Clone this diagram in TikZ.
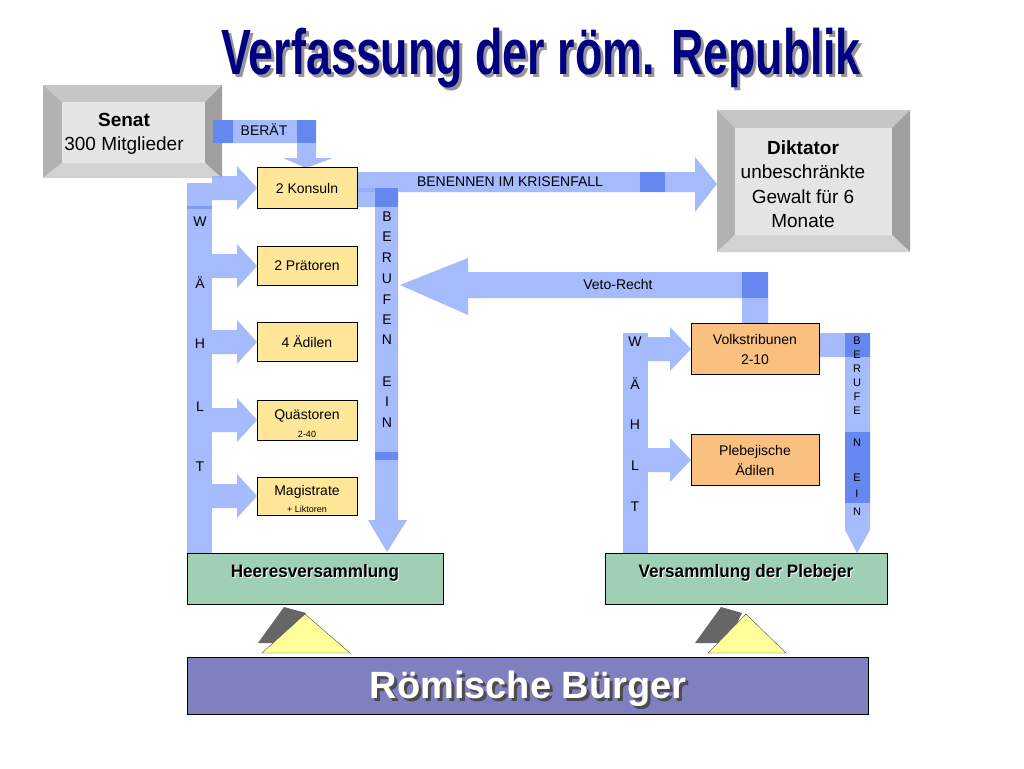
\documentclass[tikz,border=0pt]{standalone}
\usepackage{fontspec}
\setmainfont{Liberation Sans}
\begin{document}
\begin{tikzpicture}[x=1pt,y=-1pt,
  arrc/.style={fill={rgb,255:red,143;green,170;blue,250}},
  dk/.style={fill={rgb,255:red,100;green,135;blue,240}},
  ybox/.style={draw,fill={rgb,255:red,255;green,230;blue,153}},
  obox/.style={draw,fill={rgb,255:red,250;green,192;blue,128}},
  gbox/.style={draw,fill={rgb,255:red,159;green,207;blue,181}},
  lbl/.style={font=\fontsize{14}{16}\selectfont,align=center},
  alb/.style={font=\fontsize{13}{13}\selectfont,inner sep=0pt},
  sm/.style={font=\fontsize{9}{9}\selectfont,inner sep=0pt}]
\useasboundingbox (0,0) rectangle (1024,768);
\fill[white] (0,0) rectangle (1024,768);
% title
\node[text={rgb,255:red,150;green,150;blue,150},font=\bfseries\fontsize{64}{64}\selectfont,inner sep=0pt] at (544,61) {\scalebox{0.7}[1]{Verfassung der röm. Republik}};
\node (title) [text={rgb,255:red,0;green,0;blue,128},font=\bfseries\fontsize{64}{64}\selectfont,inner sep=0pt] at (541,58) {\scalebox{0.7}[1]{Verfassung der röm. Republik}};
% Senat box
\fill[gray!45] (43,85) -- (222,85) -- (205,102) -- (62,102) -- cycle;
\fill[gray!60] (43,85) -- (62,102) -- (62,163) -- (43,178) -- cycle;
\fill[gray!75] (222,85) -- (205,102) -- (205,163) -- (222,178) -- cycle;
\fill[gray!35] (43,178) -- (62,163) -- (205,163) -- (222,178) -- cycle;
\fill[gray!20] (62,102) rectangle (205,163);
\node (senat) [lbl,font=\fontsize{19}{24}\selectfont] at (124,134) {\textbf{Senat}\\300 Mitglieder};
% Diktator box
\fill[gray!45] (717,110) -- (910,110) -- (892,128) -- (735,128) -- cycle;
\fill[gray!60] (717,110) -- (735,128) -- (735,235) -- (717,252) -- cycle;
\fill[gray!75] (910,110) -- (892,128) -- (892,235) -- (910,252) -- cycle;
\fill[gray!35] (717,252) -- (735,235) -- (892,235) -- (910,252) -- cycle;
\fill[gray!20] (735,128) rectangle (892,235);
\node (dikt) [lbl,font=\fontsize{19}{24.5}\selectfont] at (803,184) {\textbf{Diktator}\\unbeschränkte\\Gewalt für 6\\Monate};
% arrows: BERAET
\fill[arrc,opacity=0.8] (213,120) -- (316,120) -- (316,158) -- (333,158) -- (306,168) -- (283,158) -- (297,158) -- (297,143) -- (213,143) -- cycle;
\fill[dk] (213,120) rectangle (233,143);
\fill[dk] (297,120) rectangle (316,143);
\node[alb,font=\fontsize{14}{14}\selectfont] at (264,130) {BERÄT};
% left WAEHLT vertical
\fill[arrc,opacity=0.8] (187,183) rectangle (212,553);
\foreach \cy in {188,266,342,420,496}{
  \fill[arrc,opacity=0.8] (212,\cy-12) -- (237,\cy-12) -- (237,\cy-22) -- (257,\cy) -- (237,\cy+22) -- (237,\cy+12) -- (212,\cy+12) -- cycle;}
\fill[dk,opacity=0.6] (187,206) rectangle (212,209);
\foreach \l/\y in {W/222,Ä/283,H/344,L/407,T/467}{\node[alb,font=\fontsize{14}{14}\selectfont] at (200,\y) {\l};}
% BENENNEN
\fill[arrc,opacity=0.8] (357,172) -- (695,172) -- (695,157) -- (717,184) -- (695,212) -- (695,192) -- (357,192) -- cycle;
\fill[dk] (640,172) rectangle (665,192);
\node[alb,font=\fontsize{14}{14}\selectfont] at (510,182) {BENENNEN IM KRISENFALL};
% BERUFEN EIN left
\fill[arrc,opacity=0.8] (357,188) -- (398,188) -- (398,520) -- (407,520) -- (387,552) -- (368,520) -- (375,520) -- (375,207) -- (357,207) -- cycle;
\fill[dk] (375,188) rectangle (398,207);
\fill[dk] (375,452) rectangle (398,460);
\foreach \l/\y in {B/217,E/237,R/258,U/279,F/300,E/320,N/340,E/382,I/402,N/423}{\node[alb,font=\fontsize{14}{14}\selectfont] at (387,\y) {\l};}
% Veto-Recht
\fill[arrc,opacity=0.8] (768,272) -- (768,324) -- (742,324) -- (742,298) -- (468,298) -- (468,315) -- (400,285) -- (468,258) -- (468,272) -- cycle;
\fill[dk] (742,272) rectangle (768,298);
\node[alb,font=\fontsize{14}{14}\selectfont] at (618,284) {Veto-Recht};
% right WAEHLT
\fill[arrc,opacity=0.8] (623,333) rectangle (648,553);
\foreach \cy in {349,460}{
  \fill[arrc,opacity=0.8] (648,\cy-12) -- (670,\cy-12) -- (670,\cy-22) -- (691,\cy) -- (670,\cy+22) -- (670,\cy+12) -- (648,\cy+12) -- cycle;}
\foreach \l/\y in {W/342,Ä/384,H/425,L/466,T/507}{\node[alb,font=\fontsize{14}{14}\selectfont] at (635,\y) {\l};}
% right BERUFEN EIN
\fill[arrc,opacity=0.8] (819,333) -- (870,333) -- (870,530) -- (857,553) -- (845,530) -- (845,357) -- (819,357) -- cycle;
\fill[dk] (845,333) rectangle (870,357);
\fill[dk] (845,432) rectangle (870,503);
\foreach \l/\y in {B/341,E/355,R/369,U/383,F/397,E/411,N/443,E/478,I/494,N/512}{\node[sm,font=\fontsize{11}{11}\selectfont] at (857,\y) {\l};}
% yellow boxes
\node (kons) [ybox,lbl,minimum width=100,minimum height=41] at (307,188) {2 Konsuln};
\node (praet) [ybox,lbl,minimum width=100,minimum height=39] at (307,266) {2 Prätoren};
\node (aed) [ybox,lbl,minimum width=100,minimum height=39] at (307,342) {4 Ädilen};
\node (quae) [ybox,minimum width=100,minimum height=40] at (307,420) {};
\node[lbl] at (307,416) {Quästoren};
\node[sm] at (307,434) {2-40};
\node (mag) [ybox,minimum width=100,minimum height=38] at (307,496) {};
\node[lbl] at (307,492) {Magistrate};
\node[sm] at (307,509) {+ Liktoren};
% orange
\node (volk) [obox,lbl,minimum width=128,minimum height=51,font=\fontsize{14}{20}\selectfont] at (755,349) {Volkstribunen\\2-10};
\node (pleb) [obox,lbl,minimum width=128,minimum height=51,font=\fontsize{14}{20}\selectfont] at (755,460) {Plebejische\\Ädilen};
% green
\node (heer) [gbox,minimum width=256,minimum height=51] at (315,579) {};
\node[font=\bfseries\fontsize{18}{18}\selectfont,text=white] at (316,574) {\scalebox{0.95}[1]{Heeresversammlung}};
\node[font=\bfseries\fontsize{18}{18}\selectfont] at (315,573) {\scalebox{0.95}[1]{Heeresversammlung}};
\node (vers) [gbox,minimum width=282,minimum height=51] at (746,579) {};
\node[font=\bfseries\fontsize{18}{18}\selectfont,text=white] at (747,574) {\scalebox{0.95}[1]{Versammlung der Plebejer}};
\node[font=\bfseries\fontsize{18}{18}\selectfont] at (746,573) {\scalebox{0.95}[1]{Versammlung der Plebejer}};
% triangles
\fill[gray!80!black] (258,643) -- (284,607) -- (306,613) -- (290,643) -- cycle;
\draw[fill={rgb,255:red,255;green,255;blue,153},draw=gray!60!black] (262,653) -- (305,614) -- (350,653) -- cycle;
\fill[gray!80!black] (695,643) -- (721,607) -- (742,613) -- (727,643) -- cycle;
\draw[fill={rgb,255:red,255;green,255;blue,153},draw=gray!60!black] (708,653) -- (746,614) -- (786,653) -- cycle;
% Roemische Buerger
\node (buerg) [draw,fill={rgb,255:red,128;green,128;blue,192},minimum width=681,minimum height=57] at (527.5,685.5) {};
\node[text=black!70,font=\bfseries\fontsize{38}{38}\selectfont] at (531,692) {Römische Bürger};
\node[text=white,font=\bfseries\fontsize{38}{38}\selectfont] at (528,689) {Römische Bürger};
\end{tikzpicture}
\end{document}
